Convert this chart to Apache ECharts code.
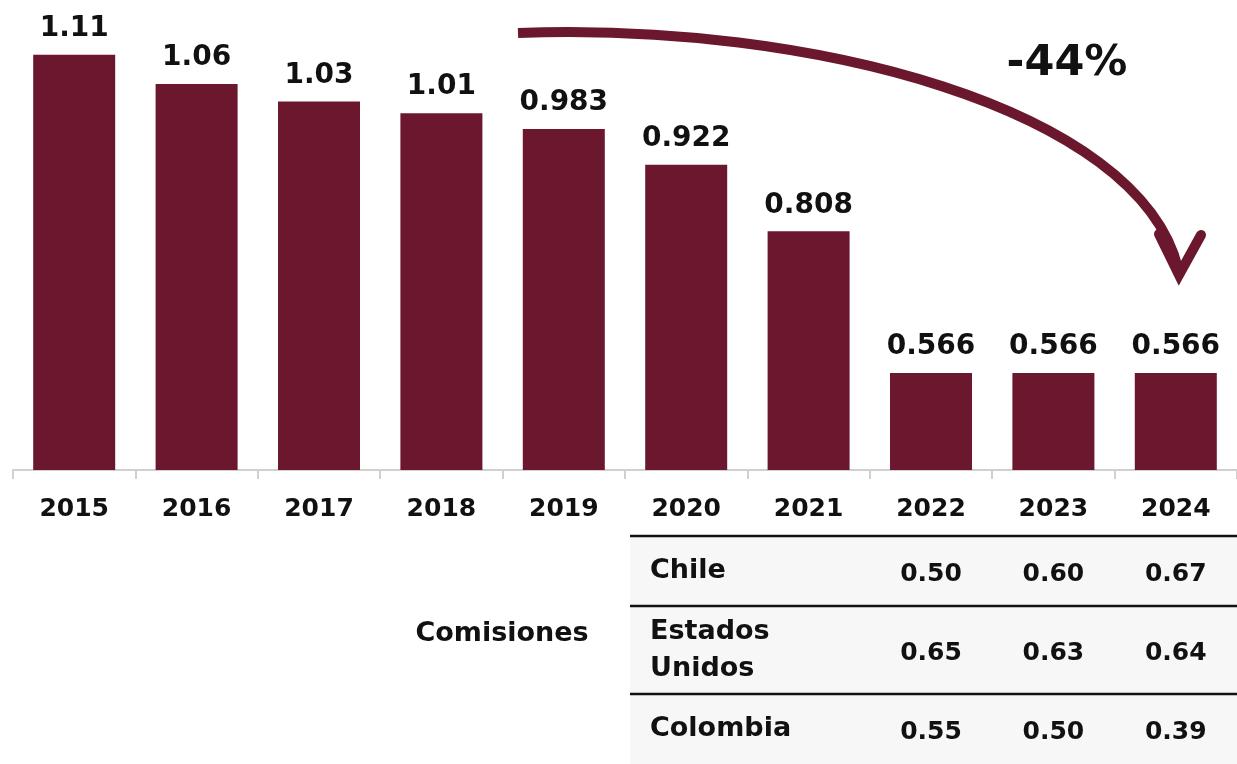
<!DOCTYPE html>
<html>
<head>
<meta charset="utf-8">
<script src="https://cdn.jsdelivr.net/npm/echarts@6/dist/echarts.min.js"></script>
<style>
html,body{margin:0;padding:0;background:#fff;}
#c{width:1237px;height:764px;}
</style>
</head>
<body>
<div id="c"></div>
<script>
var years = ['2015','2016','2017','2018','2019','2020','2021','2022','2023','2024'];
var values = [1.11, 1.06, 1.03, 1.01, 0.983, 0.922, 0.808, 0.566, 0.566, 0.566];
var valueLabels = ['1.11','1.06','1.03','1.01','0.983','0.922','0.808','0.566','0.566','0.566'];
var tableYears = ['2022','2023','2024'];
var tableRows = ['Chile', 'Estados\nUnidos', 'Colombia'];
var chileVals = ['0.50','0.60','0.67'];
var usaVals = ['0.65','0.63','0.64'];
var colombiaVals = ['0.55','0.50','0.39'];
var tableTitle = 'Comisiones';
var changeLabel = '-44%';

var MAROON = '#6b172e';
var FONT = 'DejaVu Sans';
var chart = echarts.init(document.getElementById('c'));

chart.setOption({
  animation: false,
  backgroundColor: '#ffffff',
  grid: {left: 13, right: 0, top: 2, bottom: 294},
  xAxis: {
    type: 'category',
    data: years,
    axisLine: {lineStyle: {color: '#d0d0d0', width: 2}},
    axisTick: {show: true, length: 9, lineStyle: {color: '#d0d0d0', width: 2}},
    axisLabel: {color: '#111', fontFamily: FONT, fontWeight: 'bold', fontSize: 25, margin: 27}
  },
  yAxis: {type: 'value', min: 0.4, max: 1.2, show: false, splitLine: {show: false}},
  series: [{
    type: 'bar',
    data: values,
    barWidth: 82,
    itemStyle: {color: MAROON},
    label: {
      show: true, position: 'top', distance: 12,
      color: '#111', fontFamily: FONT, fontWeight: 'bold', fontSize: 28,
      formatter: function (p) { return valueLabels[p.dataIndex]; }
    }
  }]
});

function drawGraphics() {
  var cols = tableYears.map(function (y) { return chart.convertToPixel({xAxisIndex: 0}, y); });
  var rowsVals = [chileVals, usaVals, colombiaVals];
  var rowCenters = [571, 650, 729];
  var lineYs = [536, 606, 694];
  var els = [];
  els.push({type: 'rect', z: 0, shape: {x: 630, y: 537, width: 607, height: 227}, style: {fill: '#f7f7f7'}});
  lineYs.forEach(function (ly) {
    els.push({type: 'line', z: 5, shape: {x1: 630, y1: ly, x2: 1237, y2: ly}, style: {stroke: '#111', lineWidth: 2.5}});
  });
  tableRows.forEach(function (name, i) {
    els.push({type: 'text', z: 6, style: {
      text: name, x: 650, y: rowCenters[i], textAlign: 'left', textVerticalAlign: 'middle',
      font: 'bold 27px "' + FONT + '"', fill: '#111', lineHeight: 37
    }});
    rowsVals[i].forEach(function (v, j) {
      els.push({type: 'text', z: 6, style: {
        text: v, x: cols[j], y: rowCenters[i] + 3, textAlign: 'center', textVerticalAlign: 'middle',
        font: 'bold 25px "' + FONT + '"', fill: '#111'
      }});
    });
  });
  els.push({type: 'text', z: 6, style: {
    text: tableTitle, x: 502, y: 634, textAlign: 'center', textVerticalAlign: 'middle',
    font: 'bold 27px "' + FONT + '"', fill: '#111'
  }});
  // arrow
  els.push({type: 'bezierCurve', z: 7, shape: {x1: 518, y1: 33, cpx1: 810, cpy1: 22, cpx2: 1138, cpy2: 108, x2: 1178, y2: 268},
    style: {stroke: MAROON, lineWidth: 10, fill: null, lineCap: 'butt'}});
  els.push({type: 'polyline', z: 7, shape: {points: [[1159, 234], [1179, 275], [1201, 235]]},
    style: {stroke: MAROON, lineWidth: 10, fill: null, lineCap: 'round', lineJoin: 'miter'}});
  els.push({type: 'text', z: 7, style: {
    text: changeLabel, x: 1067, y: 64, textAlign: 'center', textVerticalAlign: 'middle',
    font: 'bold 43px "' + FONT + '"', fill: '#111'
  }});
  chart.setOption({graphic: {elements: els}});
}
drawGraphics();
</script>
</body>
</html>
